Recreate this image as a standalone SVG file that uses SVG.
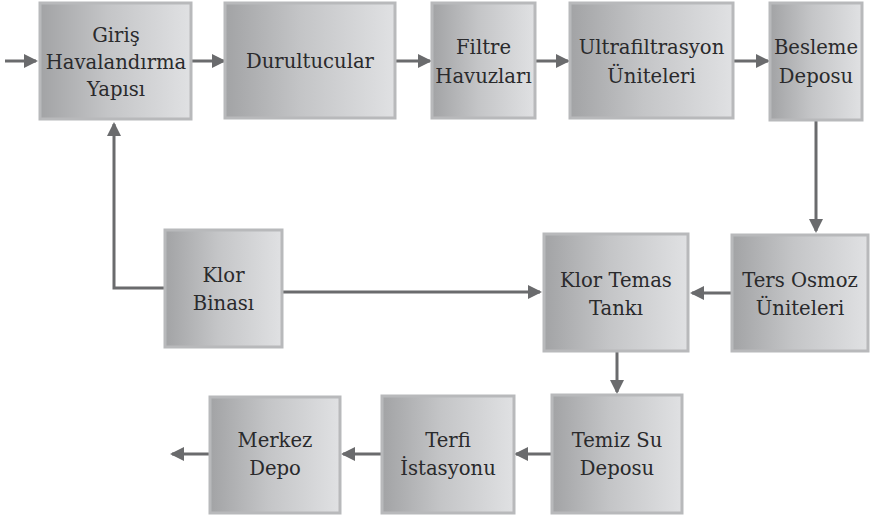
<svg xmlns="http://www.w3.org/2000/svg" width="870" height="520" viewBox="0 0 870 520">
  <defs>
    <linearGradient id="boxFill" x1="0" y1="0" x2="1" y2="0">
      <stop offset="0" stop-color="#a2a3a5"/>
      <stop offset="0.45" stop-color="#c4c5c7"/>
      <stop offset="1" stop-color="#e0e1e3"/>
    </linearGradient>
    <marker id="arrow" viewBox="0 0 14 14" markerWidth="14" markerHeight="14" refX="12" refY="7" orient="auto" markerUnits="userSpaceOnUse">
      <path d="M0,0 L14,7 L0,14 z" fill="#6a6b6d"/>
    </marker>
  </defs>
  <style>
    .box { fill: url(#boxFill); stroke: #b8b9bb; stroke-width: 3; }
    .label { font-family: "DejaVu Serif", "Liberation Serif", serif; font-size: 19.6px; fill: #2a2a2c; text-anchor: middle; }
    .conn { fill: none; stroke: #6a6b6d; stroke-width: 3; marker-end: url(#arrow); }
  </style>
  <rect width="870" height="520" fill="#ffffff"/>

  <!-- connectors -->
  <g id="connectors">
    <path class="conn" d="M5,61 H36"/>
    <path class="conn" d="M191,61 H224"/>
    <path class="conn" d="M395,61 H430"/>
    <path class="conn" d="M535,61 H568"/>
    <path class="conn" d="M733,61 H768"/>
    <path class="conn" d="M816,120 V231"/>
    <path class="conn" d="M732,293 H692"/>
    <path class="conn" d="M282,292 H540"/>
    <path class="conn" d="M165,288 H114 V124"/>
    <path class="conn" d="M617,351 V392"/>
    <path class="conn" d="M552,454 H516"/>
    <path class="conn" d="M382,454 H343"/>
    <path class="conn" d="M210,454 H172"/>
  </g>

  <!-- top row -->
  <g id="giris">
    <rect class="box" x="40" y="3" width="151" height="116"/>
    <text class="label" x="116" y="42">Giriş</text>
    <text class="label" x="116" y="69">Havalandırma</text>
    <text class="label" x="116" y="96">Yapısı</text>
  </g>
  <g id="durultucular">
    <rect class="box" x="225" y="3" width="170" height="115"/>
    <text class="label" x="310" y="68">Durultucular</text>
  </g>
  <g id="filtre">
    <rect class="box" x="432" y="3" width="103" height="115"/>
    <text class="label" x="483.5" y="54">Filtre</text>
    <text class="label" x="483.5" y="83">Havuzları</text>
  </g>
  <g id="ultrafiltrasyon">
    <rect class="box" x="570" y="3" width="163" height="115"/>
    <text class="label" x="651.5" y="54">Ultrafiltrasyon</text>
    <text class="label" x="651.5" y="83">Üniteleri</text>
  </g>
  <g id="besleme">
    <rect class="box" x="770" y="3" width="92" height="117"/>
    <text class="label" x="816" y="54">Besleme</text>
    <text class="label" x="816" y="83">Deposu</text>
  </g>

  <!-- middle row -->
  <g id="klor-binasi">
    <rect class="box" x="165" y="230" width="117" height="117"/>
    <text class="label" x="223.5" y="282">Klor</text>
    <text class="label" x="223.5" y="310">Binası</text>
  </g>
  <g id="klor-temas">
    <rect class="box" x="544" y="234" width="144" height="117"/>
    <text class="label" x="616" y="287">Klor Temas</text>
    <text class="label" x="616" y="315">Tankı</text>
  </g>
  <g id="ters-osmoz">
    <rect class="box" x="732" y="235" width="136" height="116"/>
    <text class="label" x="800" y="287">Ters Osmoz</text>
    <text class="label" x="800" y="315">Üniteleri</text>
  </g>

  <!-- bottom row -->
  <g id="temiz-su">
    <rect class="box" x="552" y="395" width="130" height="118"/>
    <text class="label" x="617" y="447">Temiz Su</text>
    <text class="label" x="617" y="475">Deposu</text>
  </g>
  <g id="terfi">
    <rect class="box" x="382" y="396" width="132" height="117"/>
    <text class="label" x="448" y="447">Terfi</text>
    <text class="label" x="448" y="475">İstasyonu</text>
  </g>
  <g id="merkez">
    <rect class="box" x="210" y="397" width="130" height="116"/>
    <text class="label" x="275" y="447">Merkez</text>
    <text class="label" x="275" y="475">Depo</text>
  </g>
</svg>
